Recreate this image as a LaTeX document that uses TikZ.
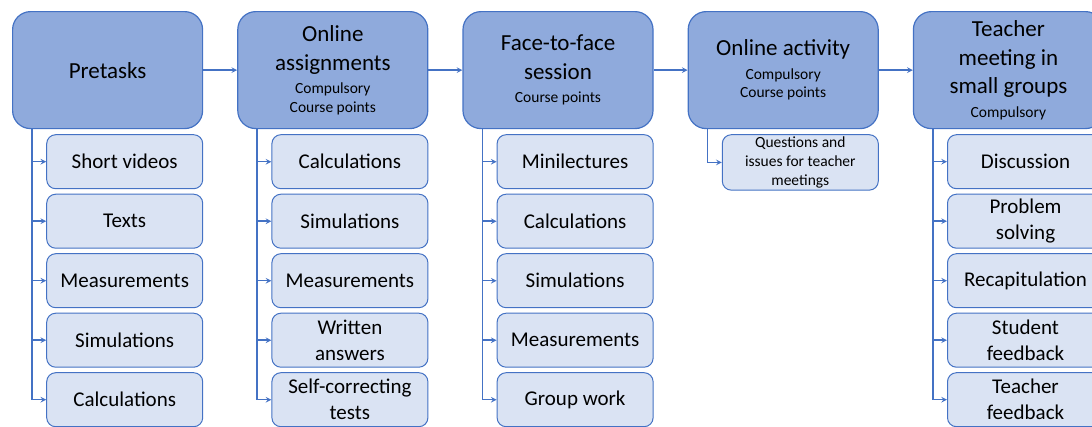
\documentclass[tikz,border=0pt]{standalone}
\usepackage{fontspec}
\setmainfont{Carlito}
\usetikzlibrary{positioning, arrows}
\definecolor{mainfill}{HTML}{8FAADC}
\definecolor{subfill}{HTML}{DAE3F3}
\definecolor{edgeblue}{HTML}{4472C4}
\newcommand{\bigtxt}{\fontsize{23}{28.5}\selectfont}
\newcommand{\midtxt}{\fontsize{21}{26}\selectfont}
\newcommand{\smalltxt}{\fontsize{15.5}{18}\selectfont}
\newcommand{\notetxt}{\fontsize{15.5}{19}\selectfont}
\tikzstyle{phase} = [
    rectangle,
    rounded corners=18pt,
    minimum width=190pt,
    minimum height=117pt,
    draw=edgeblue,
    fill=mainfill,
    line width=1.2pt,
    align=center,
    font=\bigtxt,
    inner sep=2pt
]
\tikzstyle{task} = [
    rectangle,
    rounded corners=9pt,
    minimum width=156pt,
    minimum height=54pt,
    draw=edgeblue,
    fill=subfill,
    line width=1pt,
    align=center,
    font=\midtxt,
    inner sep=2pt
]
\tikzstyle{arrow} = [line width=1.5pt,draw=edgeblue,->,>=stealth]

\begin{document}
\begin{tikzpicture}

\useasboundingbox (0,0) rectangle (1092pt,-426pt);
\clip (0,0) rectangle (1092pt,-426pt);

\node (pre) [phase, anchor=north west] at (12pt,-11pt) {Pretasks};

\node (onl) [phase, right=34pt of pre]
{Online\\assignments\\[-5pt]{\smalltxt Compulsory}\\[-10pt]{\smalltxt Course points}};

\node (f2f) [phase, right=34pt of onl]
{Face-to-face\\session\\[-5pt]{\smalltxt Course points}};

\node (act) [phase, right=34pt of f2f]
{Online activity\\[-5pt]{\smalltxt Compulsory}\\[-10pt]{\smalltxt Course points}};

\node (meet) [phase, right=34pt of act]
{Teacher\\meeting in\\small groups\\[-5pt]{\smalltxt Compulsory}};

% pretasks
\node (pre1) [task, below=5pt of pre.south east, anchor=north east] {Short videos};
\node (pre2) [task, below=4.5pt of pre1] {Texts};
\node (pre3) [task, below=4.5pt of pre2] {Measurements};
\node (pre4) [task, below=4.5pt of pre3] {Simulations};
\node (pre5) [task, below=4.5pt of pre4] {Calculations};

% online assignments
\node (onl1) [task, below=5pt of onl.south east, anchor=north east] {Calculations};
\node (onl2) [task, below=4.5pt of onl1] {Simulations};
\node (onl3) [task, below=4.5pt of onl2] {Measurements};
\node (onl4) [task, below=4.5pt of onl3] {Written\\answers};
\node (onl5) [task, below=4.5pt of onl4] {Self-correcting\\tests};

% face-to-face
\node (f2f1) [task, below=5pt of f2f.south east, anchor=north east] {Minilectures};
\node (f2f2) [task, below=4.5pt of f2f1] {Calculations};
\node (f2f3) [task, below=4.5pt of f2f2] {Simulations};
\node (f2f4) [task, below=4.5pt of f2f3] {Measurements};
\node (f2f5) [task, below=4.5pt of f2f4] {Group work};

% online activity
\node (act1) [task, font=\notetxt, below=5pt of act.south east, anchor=north east]
{Questions and\\issues for teacher\\meetings};

% teacher meeting
\node (meet1) [task, below=5pt of meet.south east, anchor=north east] {Discussion};
\node (meet2) [task, below=4.5pt of meet1] {Problem\\solving};
\node (meet3) [task, below=4.5pt of meet2] {Recapitulation};
\node (meet4) [task, below=4.5pt of meet3] {Student\\feedback};
\node (meet5) [task, below=4.5pt of meet4] {Teacher\\feedback};

\draw [arrow] (pre) -- (onl);
\draw [arrow] (onl) -- (f2f);
\draw [arrow] (f2f) -- (act);
\draw [arrow] (act) -- (meet);

\draw [arrow] ([xshift=20pt]pre.south west) |- (pre1);
\draw [arrow] ([xshift=20pt]pre.south west) |- (pre2);
\draw [arrow] ([xshift=20pt]pre.south west) |- (pre3);
\draw [arrow] ([xshift=20pt]pre.south west) |- (pre4);
\draw [arrow] ([xshift=20pt]pre.south west) |- (pre5);

\draw [arrow] ([xshift=20pt]onl.south west) |- (onl1);
\draw [arrow] ([xshift=20pt]onl.south west) |- (onl2);
\draw [arrow] ([xshift=20pt]onl.south west) |- (onl3);
\draw [arrow] ([xshift=20pt]onl.south west) |- (onl4);
\draw [arrow] ([xshift=20pt]onl.south west) |- (onl5);

\draw [arrow] ([xshift=20pt]f2f.south west) |- (f2f1);
\draw [arrow] ([xshift=20pt]f2f.south west) |- (f2f2);
\draw [arrow] ([xshift=20pt]f2f.south west) |- (f2f3);
\draw [arrow] ([xshift=20pt]f2f.south west) |- (f2f4);
\draw [arrow] ([xshift=20pt]f2f.south west) |- (f2f5);

\draw [arrow] ([xshift=20pt]act.south west) |- (act1);

\draw [arrow] ([xshift=20pt]meet.south west) |- (meet1);
\draw [arrow] ([xshift=20pt]meet.south west) |- (meet2);
\draw [arrow] ([xshift=20pt]meet.south west) |- (meet3);
\draw [arrow] ([xshift=20pt]meet.south west) |- (meet4);
\draw [arrow] ([xshift=20pt]meet.south west) |- (meet5);

\end{tikzpicture}
\end{document}
